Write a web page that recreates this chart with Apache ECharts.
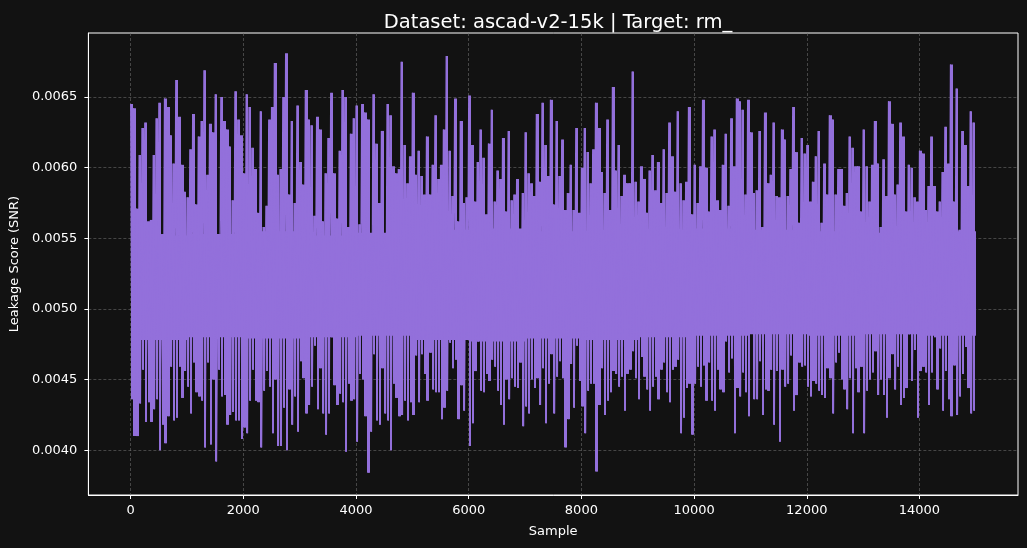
<!DOCTYPE html>
<html>
<head>
<meta charset="utf-8" />
<title>Leakage score</title>
<script type="text/javascript" src="https://cdn.jsdelivr.net/npm/echarts@6/dist/echarts.min.js"></script>
<style>
  html, body { margin: 0; padding: 0; background: #121212; }
  #main { width: 1027px; height: 548px; }
</style>
</head>
<body>
<div id="main"></div>
<script type="text/javascript">
  // samples per bucket: each bucket is drawn as its max then its min
  var bucketWidth = 50;

  // max SNR of each bucket (left to right)
  var bucketHigh = [
    0.00645, 0.00642, 0.00571, 0.00609, 0.00628, 0.00632, 0.00562, 0.00563, 0.00609, 0.00635,
    0.00646, 0.00553, 0.00649, 0.00643, 0.00623, 0.00603, 0.00662, 0.00636, 0.00602, 0.00583,
    0.00579, 0.00613, 0.00638, 0.00574, 0.00622, 0.00633, 0.00669, 0.00595, 0.00631, 0.00625,
    0.00652, 0.00544, 0.00650, 0.00633, 0.00627, 0.00615, 0.00577, 0.00654, 0.00634, 0.00623,
    0.00596, 0.00652, 0.00643, 0.00614, 0.00599, 0.00568, 0.00640, 0.00558, 0.00573, 0.00634,
    0.00643, 0.00674, 0.00595,
    0.00599, 0.00650, 0.00681, 0.00581, 0.00633, 0.00575, 0.00644, 0.00604, 0.00588, 0.00655,
    0.00634, 0.00630, 0.00566, 0.00636, 0.00627, 0.00562, 0.00596, 0.00621, 0.00653, 0.00596,
    0.00564, 0.00612, 0.00655, 0.00650, 0.00558, 0.00624, 0.00635, 0.00644, 0.00560, 0.00645,
    0.00639, 0.00634, 0.00551, 0.00652, 0.00617, 0.00575, 0.00626, 0.00551, 0.00645, 0.00637,
    0.00601, 0.00596, 0.00599, 0.00675, 0.00616, 0.00589, 0.00608,
    0.00653, 0.00595, 0.00612, 0.00594, 0.00581, 0.00622, 0.00581, 0.00602, 0.00637, 0.00592,
    0.00602, 0.00627, 0.00679, 0.00612, 0.00580, 0.00649, 0.00562, 0.00633, 0.00575, 0.00579,
    0.00651, 0.00616, 0.00576, 0.00604, 0.00627, 0.00607, 0.00567, 0.00617, 0.00641, 0.00576,
    0.00598, 0.00592, 0.00621, 0.00569, 0.00626, 0.00577, 0.00581, 0.00592, 0.00555, 0.00582,
    0.00625, 0.00596, 0.00589, 0.00580, 0.00638, 0.00590,
    0.00646, 0.00616, 0.00594, 0.00648, 0.00574, 0.00633, 0.00594, 0.00620, 0.00570, 0.00582,
    0.00602, 0.00570, 0.00628, 0.00568, 0.00600, 0.00628, 0.00611, 0.00589, 0.00613, 0.00646,
    0.00628, 0.00597, 0.00582, 0.00634, 0.00570, 0.00657, 0.00598, 0.00616, 0.00580, 0.00595,
    0.00589, 0.00589, 0.00668, 0.00590, 0.00576, 0.00601, 0.00592, 0.00568, 0.00598, 0.00609,
    0.00584, 0.00604, 0.00575, 0.00613, 0.00582, 0.00632,
    0.00608, 0.00583, 0.00640, 0.00589, 0.00577, 0.00590, 0.00643, 0.00567, 0.00602, 0.00575,
    0.00601, 0.00648, 0.00600, 0.00569, 0.00622, 0.00627, 0.00577, 0.00570, 0.00602, 0.00624,
    0.00573, 0.00635, 0.00601, 0.00649, 0.00647, 0.00641, 0.00581, 0.00648, 0.00625, 0.00582,
    0.00584, 0.00626, 0.00558, 0.00639, 0.00589, 0.00595, 0.00632, 0.00580, 0.00579, 0.00627,
    0.00620, 0.00580, 0.00599, 0.00643, 0.00611, 0.00561, 0.00621, 0.00610,
    0.00616, 0.00576, 0.00590, 0.00608, 0.00626, 0.00561, 0.00603, 0.00581, 0.00637, 0.00634,
    0.00581, 0.00599, 0.00599, 0.00573, 0.00582, 0.00622, 0.00614, 0.00601, 0.00601, 0.00569,
    0.00627, 0.00601, 0.00576, 0.00602, 0.00633, 0.00603, 0.00558, 0.00606, 0.00580, 0.00647,
    0.00631, 0.00581, 0.00588, 0.00632, 0.00622, 0.00569, 0.00602, 0.00600, 0.00579, 0.00576,
    0.00612, 0.00610, 0.00570, 0.00587, 0.00622, 0.00587, 0.00569, 0.00576, 0.00597, 0.00629,
    0.00603, 0.00673, 0.00576, 0.00656, 0.00556, 0.00626, 0.00616, 0.00587, 0.00640, 0.00632
  ];

  // min SNR of each bucket
  var bucketLow = [
    0.00436, 0.00410, 0.00410, 0.00433, 0.00457, 0.00420, 0.00434, 0.00420, 0.00429, 0.00436,
    0.00400, 0.00418, 0.00405, 0.00424, 0.00459, 0.00421, 0.00423, 0.00459, 0.00437, 0.00456,
    0.00445, 0.00426, 0.00462, 0.00441, 0.00438, 0.00435, 0.00402, 0.00462, 0.00404, 0.00450,
    0.00392, 0.00457, 0.00438, 0.00439, 0.00418, 0.00425, 0.00427, 0.00421, 0.00421, 0.00408,
    0.00416, 0.00412, 0.00435, 0.00457, 0.00435, 0.00434, 0.00402, 0.00442, 0.00456, 0.00445,
    0.00412, 0.00450, 0.00403,
    0.00403, 0.00430, 0.00400, 0.00443, 0.00418, 0.00438, 0.00413, 0.00463, 0.00451, 0.00426,
    0.00432, 0.00445, 0.00474, 0.00429, 0.00458, 0.00426, 0.00411, 0.00426, 0.00480, 0.00446,
    0.00432, 0.00440, 0.00434, 0.00399, 0.00447, 0.00435, 0.00436, 0.00406, 0.00454, 0.00450,
    0.00424, 0.00384, 0.00413, 0.00468, 0.00421, 0.00418, 0.00458, 0.00426, 0.00421, 0.00400,
    0.00447, 0.00437, 0.00424, 0.00425, 0.00435, 0.00421, 0.00434,
    0.00425, 0.00467, 0.00434, 0.00468, 0.00454, 0.00435, 0.00469, 0.00443, 0.00441, 0.00441,
    0.00422, 0.00430, 0.00442, 0.00476, 0.00458, 0.00464, 0.00422, 0.00446, 0.00428, 0.00480,
    0.00403, 0.00419, 0.00456, 0.00477, 0.00442, 0.00441, 0.00454, 0.00449, 0.00464, 0.00459,
    0.00442, 0.00432, 0.00418, 0.00450, 0.00436, 0.00451, 0.00445, 0.00444, 0.00462, 0.00417,
    0.00431, 0.00426, 0.00450, 0.00444, 0.00451, 0.00432,
    0.00458, 0.00419, 0.00447, 0.00468, 0.00426, 0.00452, 0.00463, 0.00451, 0.00402, 0.00422,
    0.00461, 0.00430, 0.00474, 0.00449, 0.00431, 0.00412, 0.00442, 0.00447, 0.00447, 0.00385,
    0.00432, 0.00458, 0.00425, 0.00435, 0.00441, 0.00456, 0.00454, 0.00445, 0.00452, 0.00428,
    0.00454, 0.00457, 0.00470, 0.00451, 0.00436, 0.00466, 0.00452, 0.00443, 0.00428, 0.00445,
    0.00452, 0.00436, 0.00457, 0.00462, 0.00441, 0.00434,
    0.00457, 0.00459, 0.00464, 0.00412, 0.00423, 0.00444, 0.00447, 0.00411, 0.00447, 0.00459,
    0.00445, 0.00460, 0.00435, 0.00462, 0.00435, 0.00428, 0.00457, 0.00443, 0.00441, 0.00477,
    0.00455, 0.00465, 0.00412, 0.00444, 0.00438, 0.00455, 0.00441, 0.00424, 0.00483, 0.00436,
    0.00436, 0.00463, 0.00425, 0.00443, 0.00442, 0.00457, 0.00418, 0.00456, 0.00406, 0.00457,
    0.00445, 0.00447, 0.00467, 0.00428, 0.00439, 0.00462, 0.00459, 0.00460,
    0.00445, 0.00438, 0.00449, 0.00447, 0.00442, 0.00439, 0.00437, 0.00458, 0.00451, 0.00426,
    0.00462, 0.00469, 0.00450, 0.00443, 0.00429, 0.00451, 0.00412, 0.00458, 0.00441, 0.00459,
    0.00412, 0.00442, 0.00450, 0.00455, 0.00470, 0.00439, 0.00450, 0.00439, 0.00423, 0.00451,
    0.00468, 0.00443, 0.00459, 0.00432, 0.00437, 0.00444, 0.00482, 0.00449, 0.00471, 0.00423,
    0.00456, 0.00459, 0.00455, 0.00432, 0.00455, 0.00480, 0.00443, 0.00472, 0.00428, 0.00456,
    0.00436, 0.00424, 0.00460, 0.00425, 0.00438, 0.00454, 0.00473, 0.00444, 0.00426, 0.00428
  ];

  // edges of the solid core band, one value per 1000 samples
  var chunkWidth = 1000;
  var lastSample = 14999;
  var coreTop = [0.00552, 0.00553, 0.00555, 0.00552, 0.00554, 0.00556, 0.00557, 0.00555,
                 0.00554, 0.00556, 0.00557, 0.00556, 0.00555, 0.00554, 0.00555];
  var coreBottom = [0.00478, 0.00480, 0.00479, 0.00480, 0.00481, 0.00478, 0.00477, 0.00479,
                    0.00478, 0.00480, 0.00481, 0.00482, 0.00481, 0.00482, 0.00481];

  var xTicks = [0, 2000, 4000, 6000, 8000, 10000, 12000, 14000];
  var yTicks = [0.0040, 0.0045, 0.0050, 0.0055, 0.0060, 0.0065];

  // zigzag max -> min inside every bucket, like the dense raw trace
  var lineData = [];
  var rangeData = [];
  for (var i = 0; i < bucketHigh.length; i++) {
    lineData.push([i * bucketWidth, bucketHigh[i]]);
    lineData.push([i * bucketWidth + bucketWidth / 2, bucketLow[i]]);
    rangeData.push([i * bucketWidth, i * bucketWidth + bucketWidth * 0.8, bucketLow[i], bucketHigh[i]]);
  }
  var coreData = [];
  for (var j = 0; j < coreTop.length; j++) {
    coreData.push([j * chunkWidth, Math.min((j + 1) * chunkWidth, lastSample), coreBottom[j], coreTop[j]]);
  }

  // x0, x1, yLow, yHigh -> rect snapped to whole pixels so neighbours tile without seams
  function spanRect(params, api) {
    var a = api.coord([api.value(0), api.value(3)]);
    var b = api.coord([api.value(1), api.value(2)]);
    var x0 = Math.round(a[0]);
    var x1 = Math.max(Math.round(b[0]), x0 + 1);
    return {
      type: 'rect',
      shape: { x: x0, y: a[1], width: x1 - x0, height: b[1] - a[1] },
      style: { fill: purple }
    };
  }

  var purple = '#9370db';
  var font = 'DejaVu Sans';
  var myChart = echarts.init(document.getElementById('main'));
  myChart.setOption({
    animation: false,
    backgroundColor: '#121212',
    title: {
      text: 'Dataset: ascad-v2-15k | Target: rm_',
      left: 553,
      top: 8,
      textAlign: 'center',
      textStyle: { color: '#ffffff', fontSize: 19.5, fontWeight: 'normal', fontFamily: font }
    },
    grid: {
      left: 88, right: 9, top: 33, bottom: 53,
      show: true, borderColor: '#ffffff', borderWidth: 1
    },
    xAxis: {
      type: 'value',
      min: -750,
      max: 15749,
      name: 'Sample',
      nameLocation: 'middle',
      nameGap: 30,
      nameTextStyle: { color: '#ffffff', fontSize: 13, fontFamily: font },
      axisLine: { show: true, onZero: false, lineStyle: { color: '#ffffff', width: 1 } },
      axisTick: { show: true, length: 4, customValues: xTicks, lineStyle: { color: '#ffffff' } },
      axisLabel: {
        customValues: xTicks, color: '#ffffff', fontSize: 13, fontFamily: font, margin: 9,
        formatter: function (v) { return String(v); }
      },
      splitLine: { show: true, lineStyle: { color: '#6a6a6a', width: 0.6, type: [3, 2] } }
    },
    yAxis: {
      type: 'value',
      min: 0.003683,
      max: 0.006953,
      name: 'Leakage Score (SNR)',
      nameLocation: 'middle',
      nameGap: 64,
      nameTextStyle: { color: '#ffffff', fontSize: 13, fontFamily: font },
      axisLine: { show: true, onZero: false, lineStyle: { color: '#ffffff', width: 1 } },
      axisTick: { show: true, length: 4, customValues: yTicks, lineStyle: { color: '#ffffff' } },
      axisLabel: {
        customValues: yTicks, color: '#ffffff', fontSize: 13, fontFamily: font, margin: 11,
        formatter: function (v) { return v.toFixed(4); }
      },
      splitLine: { show: true, lineStyle: { color: '#6a6a6a', width: 0.6, type: [3, 2] } }
    },
    series: [
      {
        type: 'custom',
        data: coreData,
        encode: { x: [0, 1], y: [2, 3] },
        silent: true,
        renderItem: spanRect
      },
      {
        type: 'custom',
        data: rangeData,
        encode: { x: [0, 1], y: [2, 3] },
        silent: true,
        renderItem: spanRect
      },
      {
        type: 'line',
        data: lineData,
        showSymbol: false,
        symbol: 'none',
        silent: true,
        lineStyle: { color: purple, width: 1.2 }
      }
    ]
  });
</script>
</body>
</html>
